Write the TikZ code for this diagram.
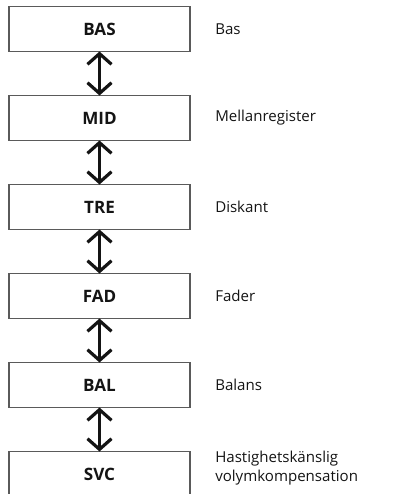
\documentclass[tikz,border=0pt]{standalone}
\usepackage{fontspec}
\setmainfont{Open Sans}
\usepackage{tikz}
\usetikzlibrary{arrows.meta, positioning}
\definecolor{boxgray}{RGB}{90, 90, 90}
\definecolor{textblack}{RGB}{20, 20, 20}

\begin{document}
\begin{tikzpicture}[
    x=0.75pt, y=0.75pt,
    every node/.style={font=\fontsize{11.3pt}{14.2pt}\selectfont, text=textblack},
    setbox/.style={
        rectangle,
        draw=boxgray,
        line width=0.8pt,
        fill=white,
        minimum width=135.75pt,
        minimum height=33.75pt,
        outer sep=0pt,
        font=\bfseries\fontsize{12.8pt}{15pt}\selectfont
    },
    desc/.style={
        inner sep=0pt,
        align=left,
        anchor=west
    },
    arrow/.style={
        line width=2.4pt,
        draw=textblack,
        {Straight Barb[length=8pt, width=18pt]}-{Straight Barb[length=8pt, width=18pt]}
    }
]
\useasboundingbox (0,0) rectangle (395,-494);

% ==================== SETTINGS COLUMN ====================
\node (bas) [setbox] at (99.5, -29) {BAS};
\node (mid) [setbox, below=33pt of bas] {MID};
\node (tre) [setbox, below=33pt of mid] {TRE};
\node (fad) [setbox, below=33pt of tre] {FAD};
\node (bal) [setbox, below=33pt of fad] {BAL};
\node (svc) [setbox, below=33pt of bal] {SVC};

\draw [arrow] (bas) -- (mid);
\draw [arrow] (mid) -- (tre);
\draw [arrow] (tre) -- (fad);
\draw [arrow] (fad) -- (bal);
\draw [arrow] (bal) -- (svc);

% ==================== DESCRIPTIONS ====================
\node (bas_txt) [desc, right=18.75pt of bas] {Bas};
\node (mid_txt) [desc, right=18.75pt of mid] {Mellanregister};
\node (tre_txt) [desc, right=18.75pt of tre] {Diskant};
\node (fad_txt) [desc, right=18.75pt of fad] {Fader};
\node (bal_txt) [desc, right=18.75pt of bal] {Balans};
\node (svc_txt) [desc, right=18.75pt of svc, yshift=4.5pt] {Hastighetskänslig\\volymkompensation};

\end{tikzpicture}
\end{document}
